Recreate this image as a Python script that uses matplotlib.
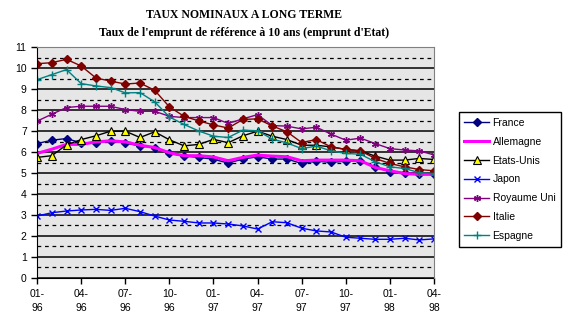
import matplotlib
matplotlib.use("Agg")
import matplotlib.pyplot as plt
from matplotlib.ticker import MultipleLocator

# Taux mensuels des emprunts d'Etat a 10 ans, janvier 1996 - avril 1998
mois = list(range(28))
etiquettes = ["01-\n96", "04-\n96", "07-\n96", "10-\n96", "01-\n97",
              "04-\n97", "07-\n97", "10-\n97", "01-\n98", "04-\n98"]

france = [6.41, 6.57, 6.65, 6.44, 6.46, 6.52, 6.44, 6.29, 6.22, 5.94, 5.81, 5.75, 5.66, 5.48,
          5.67, 5.78, 5.67, 5.67, 5.46, 5.57, 5.51, 5.57, 5.57, 5.30, 5.06, 5.02, 4.94, 4.94]
allemagne = [5.94, 6.14, 6.37, 6.37, 6.49, 6.54, 6.49, 6.33, 6.22, 5.97, 5.83, 5.83, 5.77, 5.59,
             5.75, 5.86, 5.81, 5.78, 5.59, 5.62, 5.62, 5.62, 5.59, 5.27, 5.11, 4.98, 4.94, 4.94]
etats_unis = [5.75, 5.83, 6.35, 6.60, 6.78, 7.00, 7.00, 6.70, 6.97, 6.59, 6.30, 6.37, 6.61, 6.45,
              6.78, 7.00, 6.76, 6.60, 6.33, 6.33, 6.25, 6.13, 6.06, 5.81, 5.62, 5.62, 5.70, 5.65]
japon = [2.95, 3.11, 3.19, 3.24, 3.27, 3.22, 3.32, 3.16, 2.95, 2.76, 2.70, 2.62, 2.62, 2.57,
         2.48, 2.33, 2.68, 2.63, 2.37, 2.24, 2.19, 1.94, 1.89, 1.84, 1.84, 1.89, 1.81, 1.86]
royaume_uni = [7.48, 7.81, 8.13, 8.19, 8.19, 8.19, 8.03, 7.95, 7.95, 7.71, 7.65, 7.65, 7.65, 7.37,
               7.59, 7.79, 7.27, 7.24, 7.11, 7.19, 6.86, 6.57, 6.67, 6.41, 6.17, 6.10, 6.06, 5.87]
italie = [10.22, 10.27, 10.43, 10.11, 9.54, 9.39, 9.25, 9.30, 8.95, 8.16, 7.71, 7.49, 7.30, 7.15,
          7.56, 7.59, 7.25, 6.97, 6.46, 6.60, 6.25, 6.13, 6.06, 5.70, 5.46, 5.30, 5.17, 5.11]
espagne = [9.46, 9.70, 9.94, 9.27, 9.16, 9.08, 8.83, 8.84, 8.40, 7.68, 7.32, 7.01, 6.76, 6.70,
           7.05, 7.02, 6.62, 6.44, 6.17, 6.29, 6.06, 5.94, 5.90, 5.54, 5.30, 5.22, 5.02, 4.98]

plt.rcParams["font.family"] = ["Liberation Sans", "DejaVu Sans"]

fig = plt.figure(figsize=(5.71, 3.36), dpi=100)
ax = fig.add_axes([0.065, 0.173, 0.695, 0.686])
ax.set_facecolor("#e6e6e6")

ax.plot(mois, france, color="#000080", lw=1, marker="D", ms=3.6, label="France")
ax.plot(mois, allemagne, color="#ff00ff", lw=2.2, label="Allemagne")
ax.plot(mois, etats_unis, color="black", lw=1, marker="^", ms=5.5,
        mfc="#ffff00", mec="black", mew=0.8, label="Etats-Unis")
ax.plot(mois, japon, color="#0000ff", lw=1, marker="x", ms=4.5, label="Japon")
ax.plot(mois, royaume_uni, color="#800080", lw=1, marker=(6, 2, 0), ms=5, mew=1,
        label="Royaume Uni")
ax.plot(mois, italie, color="#800000", lw=1, marker="D", ms=4, label="Italie")
ax.plot(mois, espagne, color="#008080", lw=1, marker="+", ms=5.5, mew=1, label="Espagne")

ax.set_xlim(0, 27)
ax.set_ylim(0, 11)
ax.set_xticks(mois[::3])
ax.set_xticklabels(etiquettes, linespacing=1.55)
ax.yaxis.set_major_locator(MultipleLocator(1))
ax.yaxis.set_minor_locator(MultipleLocator(0.5))
ax.tick_params(axis="both", which="major", labelsize=7.5, direction="out", length=4, width=1)
ax.tick_params(axis="y", which="minor", length=0)
ax.tick_params(axis="x", pad=4)

ax.set_axisbelow(True)
ax.grid(which="major", axis="y", color="black", lw=1.1, ls="-")
ax.grid(which="minor", axis="y", color="black", lw=0.9, ls=(0, (3, 3)))

for side in ("top", "right"):
    ax.spines[side].set_color("#808080")
    ax.spines[side].set_zorder(5)
for side in ("left", "bottom"):
    ax.spines[side].set_color("black")

fig.text(0.427, 0.955, "TAUX NOMINAUX A LONG TERME", ha="center", va="center",
         family="Liberation Serif", weight="bold", fontsize=8.5)
fig.text(0.427, 0.903, "Taux de l'emprunt de référence à 10 ans (emprunt d'Etat)",
         ha="center", va="center", family="Liberation Serif", weight="bold", fontsize=8.5)

leg = fig.legend(loc="center", bbox_to_anchor=(0.893, 0.466), fontsize=7.5,
                 frameon=True, fancybox=False, edgecolor="black", framealpha=1,
                 labelspacing=0.85, handlelength=2.4, handletextpad=0.3, borderpad=0.55,
                 borderaxespad=0)
leg.get_frame().set_linewidth(1)

fig.savefig("out.png", dpi=100)
